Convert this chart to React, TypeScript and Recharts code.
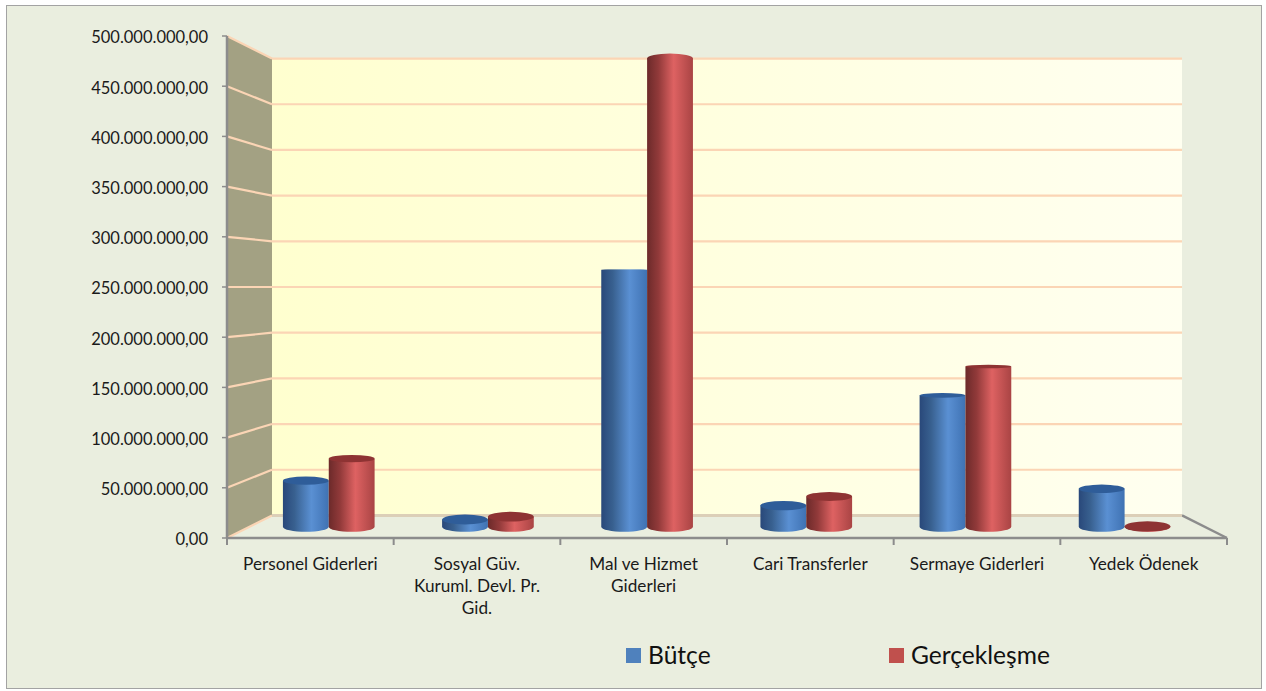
import React from 'react';
import { BarChart, Bar, XAxis, YAxis, ReferenceLine, Legend } from 'recharts';

const categories = [
  'Personel Giderleri',
  'Sosyal Güv.\nKuruml. Devl. Pr.\nGid.',
  'Mal ve Hizmet\nGiderleri',
  'Cari Transferler',
  'Sermaye Giderleri',
  'Yedek Ödenek',
];
const butce = [48000000, 7500000, 268000000, 22000000, 137000000, 39500000];
const gerceklesme = [71000000, 10500000, 488500000, 31500000, 167000000, 300000];
const yTicks = [0, 50000000, 100000000, 150000000, 200000000, 250000000, 300000000, 350000000, 400000000, 450000000, 500000000];

const data = categories.map((name, i) => ({ name, butce: butce[i], gerceklesme: gerceklesme[i] }));

const W = 1266;
const H = 691;
const LEFT = 227;
const RIGHT = 1227;
const TOP = 36;
const BOTTOM = 538;
const CX = (LEFT + RIGHT) / 2;
const CY = (TOP + BOTTOM) / 2;
const BACK = 0.91; // back wall scale
const MID = 0.955; // bars stand half way into the floor
const AXIS = '#8c8c8c';
const GRID = '#fbd5b5';
const FONT = 'Lato, "Open Sans", sans-serif';

const px = (x: number, k: number) => CX + (x - CX) * k;
const py = (y: number, k: number) => CY + (y - CY) * k;
const fmt = (v: number) =>
  v.toLocaleString('tr-TR', { minimumFractionDigits: 2, maximumFractionDigits: 2 });

const Cylinder = (props: any) => {
  const { x, y, width, height, grad, capFill } = props;
  const l = px(x, MID);
  const r = px(x + width, MID);
  const t = py(y, MID);
  const b = py(y + height, MID);
  const rx = (r - l) / 2;
  const rb = Math.abs(b - 285) * 0.021;
  const rt = Math.abs(t - 285) * 0.021;
  return (
    <g>
      <path
        d={`M${l},${t} L${l},${b} A${rx},${rb} 0 0 0 ${r},${b} L${r},${t} Z`}
        fill={`url(#${grad})`}
      />
      {/* above eye level the cap is seen from below, so it takes the side colour */}
      <ellipse cx={(l + r) / 2} cy={t} rx={rx} ry={rt} fill={t < 285 ? `url(#${grad})` : capFill} />
    </g>
  );
};

const CategoryTick = (props: any) => {
  const { x, y, payload, index } = props;
  const band = (RIGHT - LEFT) / categories.length;
  const lines = String(payload.value).split('\n');
  return (
    <g>
      <line x1={x - band / 2} x2={x - band / 2} y1={BOTTOM} y2={BOTTOM + 7} stroke={AXIS} strokeWidth={2} />
      {index === categories.length - 1 && (
        <line x1={x + band / 2} x2={x + band / 2} y1={BOTTOM} y2={BOTTOM + 7} stroke={AXIS} strokeWidth={2} />
      )}
      <text x={x} y={y + 24} textAnchor="middle" fontSize={17.2} fontFamily={FONT} fill="#1a1a1a">
        {lines.map((s, i) => (
          <tspan key={i} x={x} dy={i === 0 ? 0 : 22.2}>
            {s}
          </tspan>
        ))}
      </text>
    </g>
  );
};

// gridline in the 3D box: slanted piece on the side wall, then across the back wall
const WallLine = (props: any) => {
  const y1 = props.y1 ?? props.viewBox?.y;
  const bx = px(LEFT, BACK);
  const by = py(y1, BACK);
  const isFloor = y1 >= BOTTOM - 1;
  return (
    <g>
      <line x1={LEFT} y1={y1} x2={bx} y2={by} stroke={GRID} strokeWidth={2.2} />
      <line x1={bx} y1={by} x2={px(RIGHT, BACK)} y2={by} stroke={isFloor ? '#dccfb8' : GRID} strokeWidth={isFloor ? 3 : 2.2} />
    </g>
  );
};

const LegendContent = (props: any) => (
  <div style={{ position: 'relative', height: 93, fontFamily: FONT, fontSize: 24.6, color: '#111' }}>
    {(props.payload || []).map((e: any, i: number) => (
      <div key={e.value} style={{ position: 'absolute', left: 626 + i * 263, top: 44, display: 'flex', alignItems: 'center', lineHeight: '26px' }}>
        <span style={{ width: 15, height: 15, background: e.color, marginRight: 7, display: 'inline-block' }} />
        {e.value}
      </div>
    ))}
  </div>
);

export default function App() {
  return (
    <div style={{ position: 'absolute', left: 0, top: 0, width: W, height: H, background: '#fff' }}>
      <div style={{ position: 'absolute', left: 6, top: 5, width: 1254, height: 682, background: '#eaeedf', border: '1.5px solid #a3a3a3' }} />
      <div style={{ position: 'absolute', left: 0, top: 0 }}>
        <BarChart
          width={W}
          height={H}
          data={data}
          margin={{ top: TOP, right: W - RIGHT, bottom: 0, left: 0 }}
          barCategoryGap="21%"
          barGap={0}
        >
          <defs>
            <linearGradient id="gradBlue" x1="0" y1="0" x2="1" y2="0">
              <stop offset="0%" stopColor="#29487a" />
              <stop offset="25%" stopColor="#38608f" />
              <stop offset="62%" stopColor="#5a90d3" />
              <stop offset="100%" stopColor="#3f72b3" />
            </linearGradient>
            <linearGradient id="gradRed" x1="0" y1="0" x2="1" y2="0">
              <stop offset="0%" stopColor="#6c2a2a" />
              <stop offset="25%" stopColor="#923a3a" />
              <stop offset="58%" stopColor="#de6262" />
              <stop offset="100%" stopColor="#a94444" />
            </linearGradient>
            <linearGradient id="gradWall" x1="0" y1="0" x2="1" y2="0">
              <stop offset="0%" stopColor="#ffffcf" />
              <stop offset="100%" stopColor="#fffff0" />
            </linearGradient>
          </defs>
          <polygon
            points={`${LEFT},${TOP} ${px(LEFT, BACK)},${py(TOP, BACK)} ${px(LEFT, BACK)},${py(BOTTOM, BACK)} ${LEFT},${BOTTOM}`}
            fill="#a3a183"
          />
          <rect
            x={px(LEFT, BACK)}
            y={py(TOP, BACK)}
            width={px(RIGHT, BACK) - px(LEFT, BACK)}
            height={py(BOTTOM, BACK) - py(TOP, BACK)}
            fill="url(#gradWall)"
          />
          <line x1={px(RIGHT, BACK)} y1={py(BOTTOM, BACK)} x2={RIGHT} y2={BOTTOM} stroke={AXIS} strokeWidth={2.5} />
          {yTicks.map((t) => (
            <ReferenceLine key={t} y={t} ifOverflow="visible" shape={WallLine as any} zIndex={100} />
          ))}
          <XAxis
            dataKey="name"
            height={60}
            interval={0}
            axisLine={{ stroke: AXIS, strokeWidth: 2.5 }}
            tickLine={false}
            tick={CategoryTick as any}
          />
          <YAxis
            width={LEFT}
            domain={[0, 500000000]}
            ticks={yTicks}
            interval={0}
            tickFormatter={fmt}
            axisLine={{ stroke: AXIS, strokeWidth: 2.5 }}
            tickLine={{ stroke: AXIS, strokeWidth: 1.5 }}
            tickSize={5}
            tickMargin={14}
            tick={{ fontSize: 16.5, fontFamily: FONT, fill: '#1a1a1a', dy: 1.5 } as any}
          />
          <Legend verticalAlign="bottom" content={LegendContent as any} wrapperStyle={{ left: 0, width: W, height: 93 }} />
          <Bar
            dataKey="butce"
            name="Bütçe"
            fill="#4f81bd"
            isAnimationActive={false}
            shape={(p: any) => <Cylinder {...p} grad="gradBlue" capFill="#2f5d99" />}
          />
          <Bar
            dataKey="gerceklesme"
            name="Gerçekleşme"
            fill="#c0504d"
            isAnimationActive={false}
            shape={(p: any) => <Cylinder {...p} grad="gradRed" capFill="#8e3333" />}
          />
        </BarChart>
      </div>
    </div>
  );
}
